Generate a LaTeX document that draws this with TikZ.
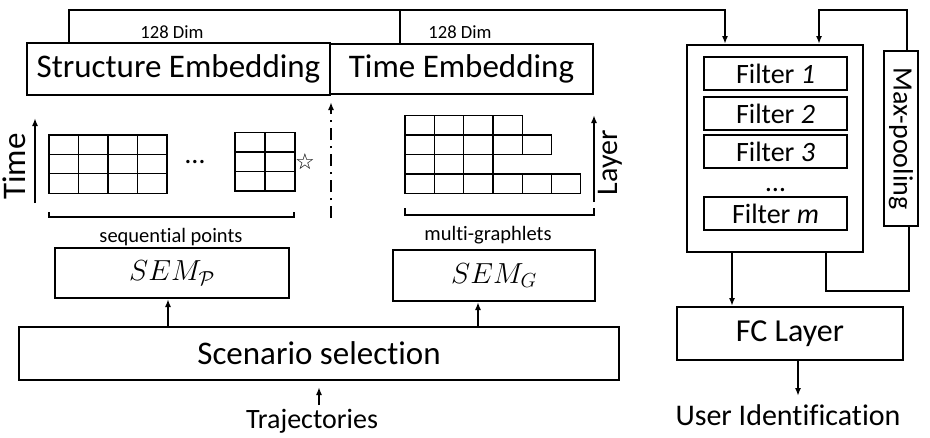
\documentclass[tikz,border=0pt]{standalone}
\usepackage{fix-cm}
\usepackage{fontspec}
\setmainfont[Ligatures=NoCommon]{Carlito}
\newfontfamily\symfont{DejaVu Sans}
\usetikzlibrary{positioning, arrows.meta, calc}

\begin{document}
\begin{tikzpicture}[x=1pt, y=-1pt,
  box/.style={draw, line width=2pt, inner sep=0pt},
  fbox/.style={draw, line width=1.5pt, inner sep=0pt, minimum width=143pt, minimum height=33pt, f28},
  arr/.style={line width=1.8pt, -{Latex[length=8pt,width=6pt]}},
  wire/.style={line width=1.8pt},
  cell/.style={line width=1.3pt},
  f33/.style={font=\fontsize{33}{36}\selectfont},
  f32/.style={font=\fontsize{32}{35}\selectfont},
  f30/.style={font=\fontsize{30}{33}\selectfont},
  f28/.style={font=\fontsize{28}{31}\selectfont},
  f20/.style={font=\fontsize{20.5}{23}\selectfont},
  f18/.style={font=\fontsize{18.6}{21}\selectfont}]
  \useasboundingbox (0,0) rectangle (930,437);

  % embeddings
  \node[box, f33, minimum width=303pt, minimum height=52pt] (se) at (178.5,69) {Structure Embedding};
  \node[box, f33, minimum width=263pt, minimum height=50pt] (te) at (461.5,69) {Time Embedding};
  \node[f18] (dim1) at (172,32) {128 Dim};
  \node[f18] (dim2) at (460,32) {128 Dim};

  \coordinate (busl) at (69,10);
  \coordinate (busm) at (400,10);
  \coordinate (busr) at (725,10);

  % sequential points
  \foreach \c in {0,...,3}
    \foreach \r in {0,1,2}
      \draw[cell] (49+29.5*\c,135+19.4*\r) rectangle ++(29.5,19.4);
  \node[f28, anchor=base] (sdots) at (195,163) {\dots};
  \foreach \c in {0,1}
    \foreach \r in {0,1,2}
      \draw[cell] (235+30*\c,132.7+19.4*\r) rectangle ++(30,19.4);
  \node[font=\symfont\fontsize{22}{24}\selectfont] (star) at (305,161.7) {☆};
  \draw[cell] (49,212) |- (294,217) -- (294,212);
  \node[f20] (seqlbl) at (171,237) {sequential points};

  \coordinate (t0) at (35,203);
  \coordinate (t1) at (35,118);
  \draw[arr] (t0) -- (t1);
  \node[f33, rotate=90, anchor=base] (timelbl) at (25,166.5) {Time};

  \coordinate (d0) at (331,218);
  \coordinate (d1) at (331,102);
  \draw[arr, dash pattern=on 12pt off 6pt on 2pt off 6pt] (d0) -- (d1);

  % multi-graphlets
  \foreach \r/\n in {0/3,1/4,2/2,3/5}
    \foreach \c in {0,...,\n}
      \draw[cell] (405+29.3*\c,115.7+19.4*\r) rectangle ++(29.3,19.4);
  \draw[cell] (405,208) |- (594,215) -- (594,208);
  \node[f20] (mglbl) at (488,235) {multi-graphlets};

  \coordinate (l0) at (594,202);
  \coordinate (l1) at (594,115);
  \draw[arr] (l0) -- (l1);
  \node[f30, rotate=90, anchor=base] (layerlbl) at (617,162.5) {Layer};

  % SEM and scenario
  \node[box, font=\fontsize{29}{32}\selectfont, minimum width=234pt, minimum height=50pt] (semp) at (172,273) {$SEM_{\mathcal{P}}$};
  \node[box, font=\fontsize{29}{32}\selectfont, minimum width=202pt, minimum height=51pt] (semg) at (494,275.5) {$SEM_{G}$};
  \node[box, f33, minimum width=600pt, minimum height=53pt] (scen) at (319,353.5) {Scenario selection};
  \node[f28, anchor=base] (traj) at (312,428) {Trajectories};

  \coordinate (sp) at (168,0);
  \coordinate (sg) at (478,0);
  \coordinate (tr) at (319,0);
  \draw[arr] (sp |- scen.north) -- (sp |- semp.south);
  \draw[arr] (sg |- scen.north) -- (sg |- semg.south);
  \draw[arr, shorten >=6pt] (tr |- traj.north) -- (tr |- scen.south);

  % filters
  \node[box, minimum width=176pt, minimum height=207pt] (cnn) at (775,148.5) {};
  \node[fbox] (f1) at (775.5,73.5) {Filter \textit{1}};
  \node[fbox] (f2) at (775.5,113.5) {Filter \textit{2}};
  \node[fbox] (f3) at (775.5,151.5) {Filter \textit{3}};
  \node[f28, anchor=base] (fdots) at (775.5,191) {\dots};
  \node[fbox] (fm) at (775.5,213.5) {Filter \textit{m}};

  \node[box, minimum width=34pt, minimum height=175pt] (mp) at (901,138.5) {};
  \node[f28, rotate=-90] (mplbl) at (mp.center) {Max-pooling};

  \node[box, f32, minimum width=226pt, minimum height=53pt] (fc) at (790,333.5) {FC Layer};
  \node[f30, anchor=base] (user) at (788,425) {User Identification};

  \draw[arr] (busl |- se.north) -- (busl) -| (busr |- cnn.north);
  \draw[wire] (busm) -- (busm |- te.north);

  \coordinate (mpt) at (907,10);
  \coordinate (cnnr) at (819,10);
  \draw[arr] (mpt |- mp.north) -- (mpt) -| (cnnr |- cnn.north);
  \coordinate (mpb) at (909,291);
  \coordinate (cnnb) at (826,291);
  \draw[wire] (cnnb |- cnn.south) -- (cnnb) -- (mpb) -- (mpb |- mp.south);

  \coordinate (cf) at (732,0);
  \coordinate (fu) at (798,0);
  \draw[arr] (cf |- cnn.south) -- (cf |- fc.north);
  \draw[arr] (fu |- fc.south) -- ++(0,35);
\end{tikzpicture}
\end{document}
